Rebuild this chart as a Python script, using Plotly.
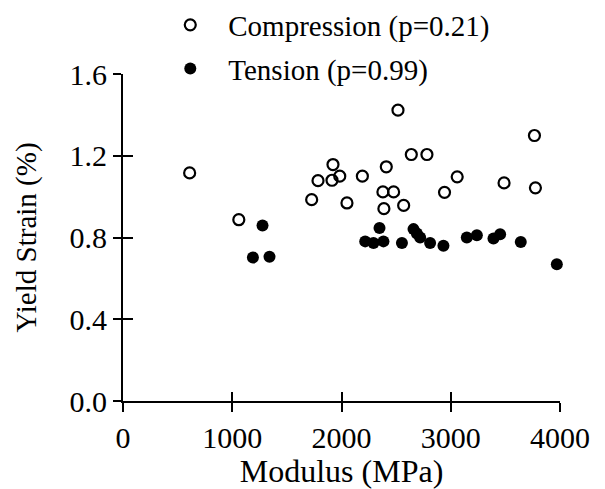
import plotly.graph_objects as go

comp_modulus = [610, 1060, 1727, 1785, 1913, 1922, 1984, 2050, 2191, 2379, 2388, 2410,
                2477, 2517, 2569, 2639, 2782, 2943, 3059, 3488, 3766, 3775]
comp_strain = [1.116, 0.887, 0.985, 1.078, 1.08, 1.157, 1.10, 0.969, 1.10, 1.023, 0.941, 1.146,
               1.023, 1.423, 0.957, 1.206, 1.206, 1.021, 1.097, 1.067, 1.299, 1.043]

tens_modulus = [1189, 1277, 1341, 2217, 2293, 2348, 2384, 2553, 2659, 2690, 2720, 2811,
                2933, 3147, 3239, 3391, 3452, 3641, 3971]
tens_strain = [0.702, 0.859, 0.706, 0.781, 0.773, 0.846, 0.781, 0.773, 0.841, 0.82, 0.80, 0.773,
               0.76, 0.80, 0.811, 0.795, 0.816, 0.778, 0.669]

x_ticks = [0, 1000, 2000, 3000, 4000]
x_labels = ["0", "1000", "2000", "3000", "4000"]
y_ticks = [0.0, 0.4, 0.8, 1.2, 1.6]
y_labels = ["0.0", "0.4", "0.8", "1.2", "1.6"]

FONT = "Liberation Serif"
INK = "#000000"

fig = go.Figure()
fig.add_trace(go.Scatter(
    x=comp_modulus, y=comp_strain, mode="markers", name="Compression (p=0.21)",
    legendgroup="a",
    marker=dict(symbol="circle-open", size=11, color=INK, line=dict(width=2.2, color=INK)),
    cliponaxis=False))
fig.add_trace(go.Scatter(
    x=tens_modulus, y=tens_strain, mode="markers", name="Tension (p=0.99)",
    legendgroup="b",
    marker=dict(symbol="circle", size=12, color=INK),
    cliponaxis=False))
# invisible trace that activates the overlay axes carrying the inner half of each tick
fig.add_trace(go.Scatter(x=[None], y=[None], xaxis="x2", yaxis="y2", showlegend=False,
                         hoverinfo="skip"))

fig.update_layout(
    width=597, height=481,
    margin=dict(l=115, r=45, t=66, b=88, autoexpand=False),
    paper_bgcolor="white", plot_bgcolor="white",
    font=dict(family=FONT, color=INK, size=30),
    showlegend=True,
    legend=dict(x=0.067, y=1.228, xanchor="left", yanchor="top",
                font=dict(family=FONT, size=29, color=INK),
                bgcolor="rgba(0,0,0,0)", tracegroupgap=3, itemwidth=66),
    xaxis=dict(range=[0, 4000], tickvals=x_ticks, ticktext=x_labels,
               showline=True, linecolor=INK, linewidth=2, layer="above traces",
               ticks="outside", ticklen=9, tickwidth=2, tickcolor=INK,
               showgrid=False, zeroline=False,
               tickfont=dict(family=FONT, size=30),
               title=dict(text="Modulus (MPa)", font=dict(family=FONT, size=32), standoff=0)),
    yaxis=dict(range=[0, 1.6], tickvals=y_ticks, ticktext=y_labels,
               showline=True, linecolor=INK, linewidth=2, layer="above traces",
               ticks="outside", ticklen=8, tickwidth=2, tickcolor=INK,
               showgrid=False, zeroline=False,
               tickfont=dict(family=FONT, size=30),
               title=dict(text="Yield Strain (%)", font=dict(family=FONT, size=29), standoff=24)),
    xaxis2=dict(range=[0, 4000], tickvals=x_ticks, overlaying="x", side="bottom",
                showline=False, ticks="inside", ticklen=9, tickwidth=2, tickcolor=INK,
                showticklabels=False, showgrid=False, zeroline=False),
    yaxis2=dict(range=[0, 1.6], tickvals=y_ticks, overlaying="y", side="left",
                showline=False, ticks="inside", ticklen=10, tickwidth=2, tickcolor=INK,
                showticklabels=False, showgrid=False, zeroline=False),
)

fig.write_html("out.html")
